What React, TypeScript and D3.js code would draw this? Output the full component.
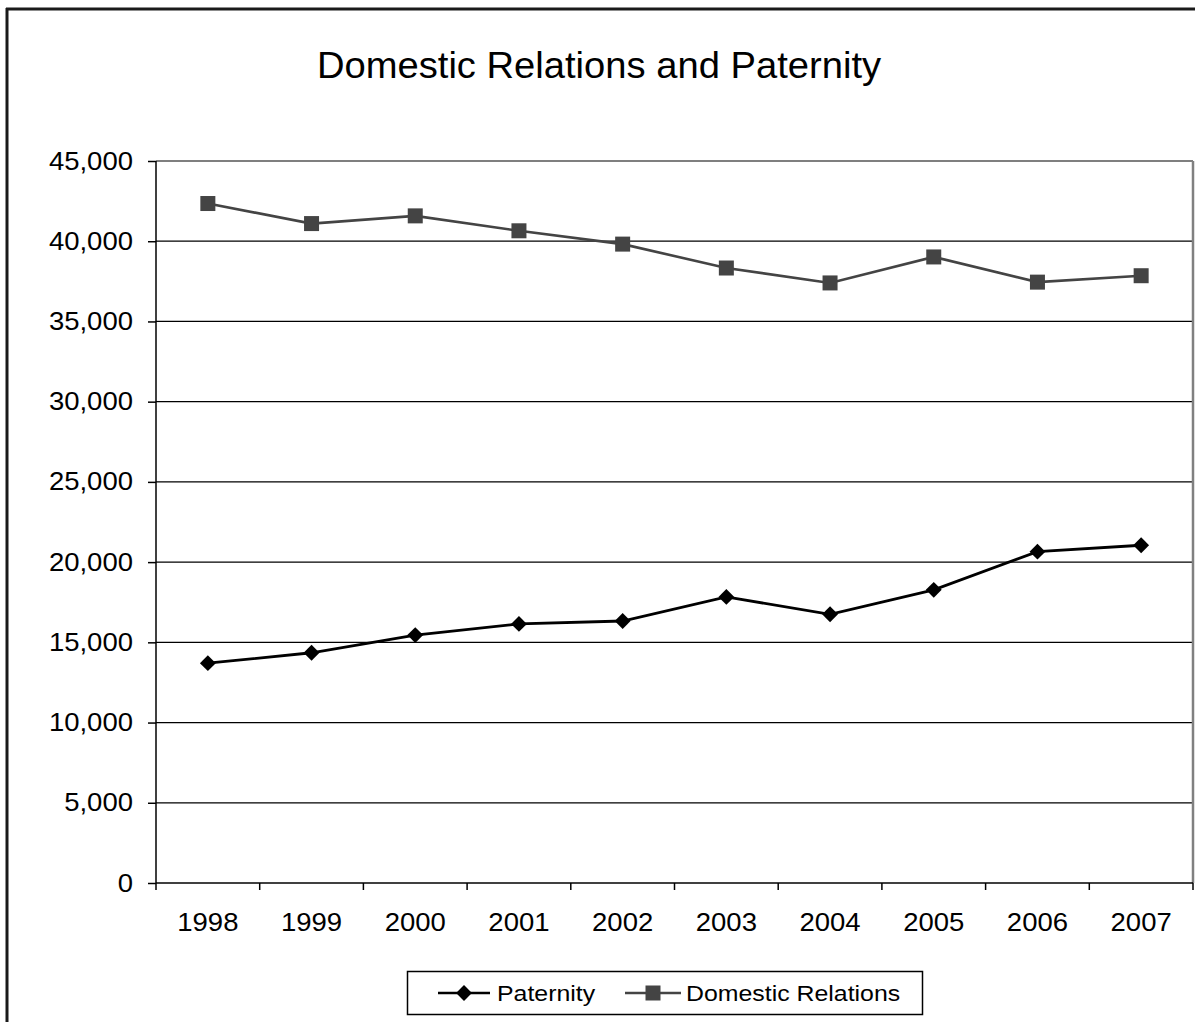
import React, { useEffect, useRef } from "react";
import * as d3 from "d3";

const years = ["1998", "1999", "2000", "2001", "2002", "2003", "2004", "2005", "2006", "2007"];
const paternity = [13700, 14350, 15450, 16150, 16330, 17830, 16750, 18270, 20650, 21050];
const domestic = [42350, 41100, 41580, 40650, 39820, 38330, 37400, 39020, 37450, 37850];
const yTicks = [0, 5000, 10000, 15000, 20000, 25000, 30000, 35000, 40000, 45000];

export default function App() {
  const ref = useRef<SVGSVGElement>(null);
  useEffect(() => {
    const svg = d3.select(ref.current);
    svg.selectAll("*").remove();
    const W = 1195, H = 1022;
    const left = 156, right = 1193, top = 161, bottom = 883;
    const font = "Liberation Sans, Arial, sans-serif";

    svg.append("rect").attr("width", W).attr("height", H).attr("fill", "#fff");
    // outer frame
    svg.append("line").attr("x1", 6).attr("x2", W).attr("y1", 9).attr("y2", 9).attr("stroke", "#1a1a1a").attr("stroke-width", 3);
    svg.append("line").attr("x1", 7).attr("x2", 7).attr("y1", 8).attr("y2", H).attr("stroke", "#1a1a1a").attr("stroke-width", 3);

    svg.append("text").attr("class", "st").attr("data-s", "1.06").attr("x", 599).attr("y", 78).attr("text-anchor", "middle")
      .attr("font-family", font).attr("font-size", 36).attr("fill", "#000").text("Domestic Relations and Paternity");

    const x = d3.scaleBand<string>().domain(years).range([left, right]);
    const y = d3.scaleLinear().domain([0, 45000]).range([bottom, top]);

    // gridlines
    svg.append("g").selectAll("line").data(yTicks.filter(t => t > 0)).join("line")
      .attr("x1", left).attr("x2", right).attr("y1", d => y(d)).attr("y2", d => y(d))
      .attr("stroke", "#000").attr("stroke-width", 1.2);
    // right border
    svg.append("line").attr("x1", right).attr("x2", right).attr("y1", top).attr("y2", bottom)
      .attr("stroke", "#808080").attr("stroke-width", 2.5);

    // y axis
    const yAxis = d3.axisLeft(y).tickValues(yTicks).tickSize(8).tickPadding(15)
      .tickFormat(d => d3.format(",")(d as number));
    const gy = svg.append("g").attr("transform", `translate(${left},0)`).call(yAxis);
    gy.selectAll("text").attr("class", "st").attr("data-s", "1.1").attr("font-family", font).attr("font-size", 25).attr("fill", "#000");
    gy.selectAll("line,path").attr("stroke", "#000").attr("stroke-width", 1.5);
    gy.select(".domain").attr("d", `M0,${top}V${bottom}`);

    // x axis
    const gx = svg.append("g").attr("transform", `translate(0,${bottom})`);
    gx.append("line").attr("x1", left).attr("x2", right).attr("stroke", "#000").attr("stroke-width", 1.5);
    const edges = years.map(yr => x(yr)!).concat([right]);
    gx.selectAll("line.tk").data(edges).join("line").attr("class", "tk")
      .attr("x1", d => d).attr("x2", d => d).attr("y1", 0).attr("y2", 7)
      .attr("stroke", "#000").attr("stroke-width", 1.5);
    gx.selectAll("text").data(years).join("text").attr("class", "st").attr("data-s", "1.1")
      .attr("x", d => x(d)! + x.bandwidth() / 2).attr("y", 48).attr("text-anchor", "middle")
      .attr("font-family", font).attr("font-size", 25).attr("fill", "#000").text(d => d);

    const cx = (i: number) => x(years[i])! + x.bandwidth() / 2;
    const line = d3.line<number>().x((_, i) => cx(i)).y(d => y(d));

    svg.append("path").attr("d", line(domestic)!).attr("fill", "none").attr("stroke", "#444").attr("stroke-width", 2.6);
    svg.append("g").selectAll("rect").data(domestic).join("rect")
      .attr("x", (_, i) => cx(i) - 7.5).attr("y", d => y(d) - 7.5).attr("width", 15).attr("height", 15).attr("fill", "#444");

    svg.append("path").attr("d", line(paternity)!).attr("fill", "none").attr("stroke", "#000").attr("stroke-width", 2.8);
    const diamond = d3.symbol().type(d3.symbolDiamond2).size(160);
    svg.append("g").selectAll("path").data(paternity).join("path")
      .attr("transform", (d, i) => `translate(${cx(i)},${y(d)})`)
      .attr("d", diamond()!).attr("fill", "#000");

    // legend
    const lg = svg.append("g");
    lg.append("rect").attr("x", 407.5).attr("y", 971.5).attr("width", 515).attr("height", 43)
      .attr("fill", "#fff").attr("stroke", "#000").attr("stroke-width", 1.5);
    const ly = 993;
    lg.append("line").attr("x1", 438).attr("x2", 490).attr("y1", ly).attr("y2", ly).attr("stroke", "#000").attr("stroke-width", 2.5);
    lg.append("path").attr("transform", `translate(464,${ly})`).attr("d", diamond()!).attr("fill", "#000");
    lg.append("text").attr("class", "st").attr("data-s", "1.13").attr("x", 497).attr("y", ly + 8).attr("font-family", font).attr("font-size", 22).text("Paternity");
    lg.append("line").attr("x1", 625).attr("x2", 681).attr("y1", ly).attr("y2", ly).attr("stroke", "#444").attr("stroke-width", 2.5);
    lg.append("rect").attr("x", 645.5).attr("y", ly - 7.5).attr("width", 15).attr("height", 15).attr("fill", "#444");
    lg.append("text").attr("class", "st").attr("data-s", "1.13").attr("x", 686).attr("y", ly + 8).attr("font-family", font).attr("font-size", 22).text("Domestic Relations");

    // horizontal stretch of text to match the reference rendering
    svg.selectAll<SVGTextElement, unknown>("text.st").each(function () {
      const s = parseFloat(this.getAttribute("data-s") || "1");
      const len = this.getComputedTextLength();
      this.setAttribute("textLength", String(len * s));
      this.setAttribute("lengthAdjust", "spacingAndGlyphs");
    });
  }, []);
  return <svg ref={ref} width={1195} height={1022} style={{ position: "absolute", left: 0, top: 0 }} />;
}
